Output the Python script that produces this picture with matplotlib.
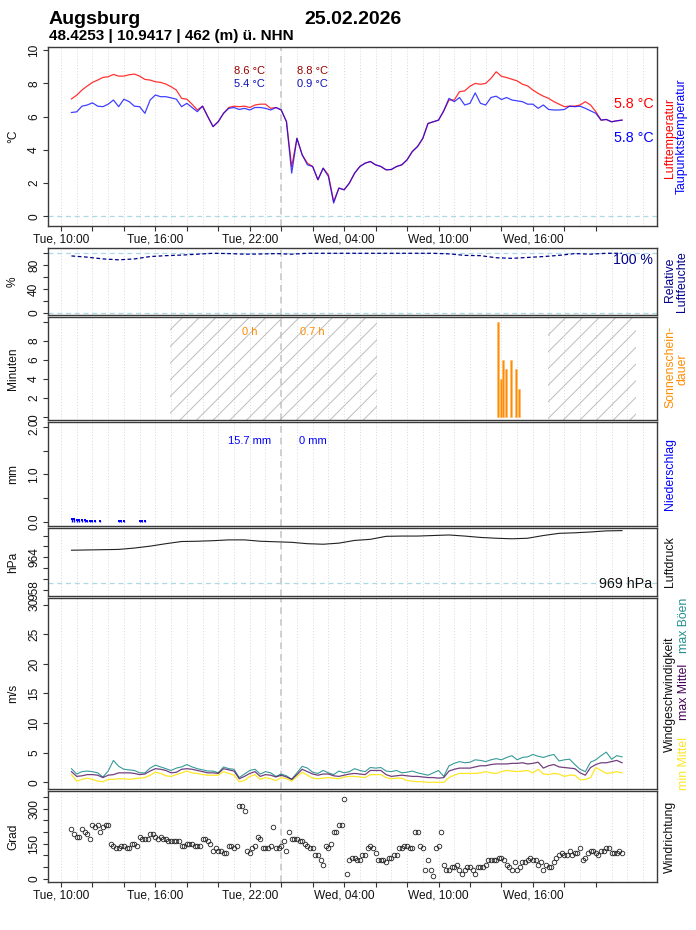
import numpy as np
import matplotlib
matplotlib.use('Agg')
import matplotlib.pyplot as plt
from matplotlib.transforms import blended_transform_factory

plt.rcParams['font.family'] = ['Liberation Sans', 'DejaVu Sans']

# ---------------- data ----------------
station = "Augsburg"
date_label = "25.02.2026"
subtitle = "48.4253 | 10.9417 | 462 (m) ü. NHN"

start_h = 10 + 40 / 60  # first sample: Tue 10:40 (hours since Tue 00:00)

# 20-minute samples
temp_air = [7.07, 7.29, 7.6, 7.84, 8.06, 8.2, 8.36, 8.4, 8.54, 8.44,
            8.44, 8.52, 8.56, 8.44, 8.24, 8.2, 8.1, 8.06, 7.96, 7.8,
            7.6, 7.1, 7.05, 6.75, 6.4, 6.63, 6.0, 5.4, 5.7, 6.2,
            6.55, 6.63, 6.6, 6.63, 6.55, 6.7, 6.75, 6.75, 6.5, 6.55,
            6.4, 5.7, 3.0, 4.7, 3.7, 3.2, 3.0, 2.2, 2.9, 2.5,
            0.9, 1.7, 1.6, 2.0, 2.6, 3.0, 3.2, 3.3, 3.1, 3.0,
            2.8, 2.82, 3.0, 3.1, 3.4, 3.9, 4.2, 4.69, 5.59, 5.69,
            5.79, 6.35, 7.0, 7.0, 7.5, 7.55, 7.83, 8.0, 7.95, 8.0,
            8.3, 8.7, 8.43, 8.35, 8.25, 8.15, 7.95, 7.85, 7.6, 7.4,
            7.23, 7.1, 6.9, 6.75, 6.6, 6.63, 6.63, 6.7, 6.9, 6.7,
            6.3, 5.79, 5.83, 5.69, 5.75, 5.79]
temp_dew = [6.25, 6.29, 6.63, 6.7, 6.83, 6.63, 6.6, 6.75, 7.0, 6.6,
            7.05, 6.9, 6.63, 6.6, 6.2, 7.0, 7.3, 7.2, 7.2, 7.13,
            7.05, 6.6, 6.8, 6.55, 6.3, 6.63, 6.0, 5.4, 5.7, 6.2,
            6.5, 6.55, 6.43, 6.5, 6.4, 6.55, 6.55, 6.5, 6.4, 6.55,
            6.4, 5.7, 2.6, 4.7, 3.7, 3.1, 3.0, 2.2, 2.9, 2.4,
            0.8, 1.7, 1.6, 2.0, 2.6, 3.0, 3.2, 3.3, 3.1, 3.0,
            2.8, 2.82, 3.0, 3.1, 3.4, 3.9, 4.2, 4.69, 5.59, 5.69,
            5.79, 6.35, 7.1, 6.9, 7.15, 6.7, 6.8, 7.43, 6.8, 6.7,
            7.15, 7.23, 7.03, 7.15, 7.0, 6.95, 6.9, 6.75, 6.75, 6.5,
            6.7, 6.43, 6.4, 6.4, 6.43, 6.63, 6.6, 6.63, 6.5, 6.35,
            6.2, 5.79, 5.83, 5.69, 5.75, 5.79]

wind_gust = [2.3, 1.4, 1.8, 1.9, 1.8, 1.6, 0.9, 1.9, 3.7, 2.7,
             2.2, 2.1, 2.0, 1.6, 1.6, 2.4, 2.9, 2.6, 2.3, 2.0,
             2.4, 2.6, 3.0, 2.6, 2.3, 2.1, 1.9, 1.9, 1.6, 2.6,
             2.3, 2.2, 0.8, 1.4, 2.0, 2.2, 1.4, 1.8, 1.6, 1.0,
             1.4, 1.1, 0.5, 1.6, 2.7, 2.4, 1.7, 1.5, 2.0, 1.6,
             1.3, 1.9, 1.6, 1.8, 2.3, 2.0, 1.8, 2.5, 2.4, 2.5,
             1.9, 1.8, 2.0, 1.6, 1.7, 1.9, 1.6, 1.4, 1.2, 1.6,
             2.0, 1.0, 2.8, 3.2, 3.5, 3.3, 3.4, 3.8, 3.7, 3.5,
             3.8, 4.0, 3.8, 4.2, 4.5, 3.8, 4.2, 4.3, 4.7, 4.4,
             4.2, 4.5, 4.7, 3.6, 3.8, 3.9, 3.0, 2.2, 1.8, 3.4,
             3.8, 4.5, 5.1, 3.9, 4.5, 4.3]
wind_mean_max = [1.8, 1.0, 1.1, 1.3, 1.3, 1.2, 0.8, 1.2, 1.3, 1.6,
                 1.6, 1.6, 1.5, 1.3, 1.4, 1.9, 2.3, 2.2, 2.0, 1.6,
                 1.7, 2.2, 2.3, 2.2, 2.0, 1.8, 1.6, 1.6, 1.5, 2.3,
                 2.1, 1.9, 0.6, 1.0, 1.5, 1.8, 1.0, 1.3, 1.2, 0.9,
                 1.2, 0.9, 0.5, 1.3, 2.2, 1.8, 1.4, 1.2, 1.4, 1.4,
                 1.1, 1.0, 1.2, 1.4, 1.5, 1.4, 1.3, 2.0, 2.0, 2.0,
                 1.3, 1.0, 1.1, 1.2, 1.1, 1.0, 1.0, 0.9, 0.8, 0.8,
                 0.7, 0.8, 1.9, 2.2, 2.4, 2.4, 2.4, 2.6, 2.8, 2.8,
                 3.0, 3.1, 3.1, 3.1, 3.2, 3.2, 3.3, 3.1, 3.2, 3.4,
                 2.4, 2.8, 3.0, 2.6, 2.5, 2.4, 2.3, 1.6, 1.2, 2.5,
                 3.0, 3.3, 3.3, 3.5, 3.7, 3.3]
wind_mean_min = [1.3, 0.2, 0.5, 0.7, 0.5, 0.2, 0.1, 0.5, 0.5, 0.6,
                 0.6, 0.5, 0.6, 0.7, 0.8, 1.2, 1.7, 1.5, 1.1, 1.0,
                 1.3, 1.6, 1.9, 1.6, 1.5, 1.3, 1.2, 1.2, 1.2, 1.8,
                 1.5, 1.2, 0.1, 0.3, 1.0, 1.3, 0.5, 0.8, 0.6, 0.3,
                 0.8, 0.6, 0.2, 1.0, 1.7, 1.2, 0.7, 0.6, 0.7, 0.8,
                 0.7, 0.6, 0.9, 1.0, 1.0, 0.9, 0.8, 1.3, 1.3, 1.3,
                 0.8, 0.6, 0.7, 0.7, 0.3, 0.2, 0.1, 0.1, 0.0, 0.0,
                 0.0, 0.0, 0.8, 1.2, 1.5, 1.5, 1.5, 1.5, 1.6, 1.8,
                 1.6, 1.5, 1.8, 2.0, 1.9, 1.8, 1.9, 2.0, 1.6, 2.2,
                 1.4, 1.3, 1.5, 1.4, 1.0, 1.2, 1.2, 0.4, 0.5, 0.8,
                 2.5, 2.0, 1.5, 1.6, 1.8, 1.6]

# hourly samples
humidity = [95.5, 93.5, 90.5, 89, 90.5, 94.5, 96, 97, 98.5, 100,
            99.5, 98.5, 98.8, 99.5, 98.5, 100, 100, 100, 100, 100,
            100, 100, 100, 100, 99, 96.5, 96, 92.5, 91.5, 93,
            94.5, 96.5, 99.5, 98.5, 100, 100]
pressure = [965.3, 965.35, 965.4, 965.45, 965.7, 966.05, 966.5, 966.9, 966.95, 967.05,
            967.2, 967.2, 966.95, 966.85, 966.75, 966.5, 966.4, 966.6, 967.1, 967.3,
            967.85, 967.9, 967.9, 968.0, 968.1, 967.9, 967.65, 967.5, 967.4, 967.5,
            968.0, 968.4, 968.5, 968.65, 968.85, 968.9]

# 10-minute samples
wind_dir = [211, 190, 180, 180, 211, 201, 190, 170, 231, 220,
            231, 200, 220, 231, 231, 150, 139, 130, 130, 140,
            140, 130, 130, 150, 150, 140, 180, 170, 170, 170,
            190, 190, 180, 170, 180, 170, 170, 160, 160, 160,
            160, 160, 140, 140, 150, 150, 150, 140, 140, 140,
            170, 170, 160, 150, 120, 130, 120, 120, 110, 110,
            140, 140, 130, 140, 313, 313, 291, 120, 110, 130,
            140, 180, 170, 130, 130, 130, 140, 220, 130, 130,
            140, 160, 120, 200, 170, 170, 170, 160, 160, 150,
            140, 130, 130, 100, 100, 80, 59, 140, 130, 150,
            200, 200, 231, 231, 340,
            19, 80, 90, 90, 80, 80, 100, 100, 130, 140,
            130, 110, 80, 80, 80, 70, 90, 90, 100, 100,
            130, 130, 140, 140, 130, 130, 200, 200, 140, 130,
            39, 80, 39, 10, 130, 140, 200, 59, 39, 39,
            50, 50, 59, 39, 19, 39, 50, 50, 39, 19,
            50, 50, 50, 59, 80, 80, 80, 80, 90, 90,
            80, 59, 50, 39, 70, 39, 50, 70, 70, 80,
            90, 80, 80, 59, 70, 39, 59, 50, 50, 70,
            90, 100, 110, 100, 100, 120, 100, 110, 110, 130,
            80, 90, 110, 120, 120, 110, 100, 120, 120, 130,
            130, 110, 110, 110, 120, 110]

sun_hours = [37.78, 37.95, 38.11, 38.28, 38.61, 38.95, 39.11]
sun_minutes = [10, 4, 6, 5, 6, 5, 3]

precip_hours = [10.67, 10.83, 11.0, 11.17, 11.33, 11.5, 11.67, 11.83, 12.0, 12.17,
                12.5, 13.67, 13.83, 14.0, 15.0, 15.17, 15.33]
precip_mm = [0.06, 0.06, 0.05, 0.05, 0.04, 0.04, 0.03, 0.02, 0.02, 0.02,
             0.02, 0.02, 0.02, 0.02, 0.02, 0.02, 0.02]

night_spans = [(16.95, 30.08), (40.93, 46.53)]
tick_label_map = {10: "Tue, 10:00", 16: "Tue, 16:00", 22: "Tue, 22:00",
                  28: "Wed, 04:00", 34: "Wed, 10:00", 40: "Wed, 16:00"}
day_centers = [22, 26]
day_tmax = ["8.6 °C", "8.8 °C"]
day_tmin = ["5.4 °C", "0.9 °C"]
day_sun = ["0 h", "0.7 h"]
day_precip = ["15.7 mm", "0 mm"]

# ---------------- times ----------------
t20 = start_h + np.arange(len(temp_air)) / 3.0
t60 = start_h + np.arange(len(humidity))
t10 = start_h + np.arange(len(wind_dir)) / 6.0

# ---------------- figure ----------------
WPX, HPX = 696, 930
fig = plt.figure(figsize=(WPX / 100, HPX / 100), dpi=100)
L, R = 48, 657
XLIM = (9.174, 47.89)
FS = 8.6


def add_ax(top, bot):
    return fig.add_axes([L / WPX, 1 - bot / HPX, (R - L) / WPX, (bot - top) / HPX])


def fx(x):
    return x / WPX


def fy(y):
    return 1 - y / HPX


def style(ax, ylim, yticks, ylabels, xlabels=False):
    ax.set_xlim(XLIM)
    ax.set_ylim(ylim)
    for h in range(10, 48):
        ax.axvline(h, color='#D8D8D8', lw=0.7, ls=(0, (1, 2)), zorder=0)
    ax.axvline(24, color='#C8C8C8', lw=1.2, ls=(0, (4, 3)), zorder=0.5)
    ax.set_yticks(yticks)
    ax.set_yticklabels(ylabels, rotation=90, va='center')
    ax.tick_params(axis='y', length=3.6, width=0.8, pad=2.0, labelsize=FS,
                   color='#333333', labelcolor='#111111')
    if xlabels:
        ticks = list(range(10, 45, 2))
        ax.set_xticks(ticks)
        ax.set_xticklabels([tick_label_map.get(h, '') for h in ticks])
        ax.tick_params(axis='x', length=3.6, width=0.8, pad=2.0, labelsize=FS,
                       color='#333333', labelcolor='#111111')
    else:
        ax.set_xticks([])
    for s in ax.spines.values():
        s.set_color('#3A3A3A')
        s.set_linewidth(1.0)


def ylab(text, top, bot):
    fig.text(fx(13), fy((top + bot) / 2), text, rotation=90, ha='center', va='center',
             fontsize=FS, color='#111111')


def rlab(text, x, y, color):
    fig.text(fx(x), fy(y), text, rotation=90, ha='center', va='center',
             fontsize=8.8, color=color)


panels = [(47, 226), (248, 315), (317, 420), (422, 526), (528, 596), (598, 789), (791, 882)]

# --- titles ---
fig.text(fx(49), fy(24), station, fontsize=14, fontweight='bold', ha='left', va='baseline')
fig.text(fx(304), fy(24), date_label, fontsize=14, fontweight='bold', ha='left', va='baseline')
fig.text(fx(49), fy(40), subtitle, fontsize=11, fontweight='bold', ha='left', va='baseline')

# --- 1 temperature ---
top, bot = panels[0]
ax1 = add_ax(top, bot)
style(ax1, (-0.58, 10.19), [0, 2, 4, 6, 8, 10], ['0', '2', '4', '6', '8', '10'], xlabels=True)
ax1.axhline(0, color='#ADD8E6', lw=0.9, ls=(0, (4, 3)), zorder=1)
ax1.plot(t20, temp_air, color='#FF0000', lw=0.9, alpha=0.8, zorder=3)
ax1.plot(t20, temp_dew, color='#0000FF', lw=0.9, alpha=0.75, zorder=4)
tr1 = blended_transform_factory(ax1.transData, ax1.transAxes)
for xc, tmax, tmin in zip(day_centers, day_tmax, day_tmin):
    ax1.text(xc, 0.866, tmax, transform=tr1, ha='center', va='center', fontsize=8, color='#9A0000')
    ax1.text(xc, 0.793, tmin, transform=tr1, ha='center', va='center', fontsize=8, color='#1010B8')
fig.text(fx(654), fy(103.5), f"{temp_air[-1]:.1f} °C", ha='right', va='center', fontsize=10.3, color='#FF0000')
fig.text(fx(654), fy(138.5), f"{temp_dew[-1]:.1f} °C", ha='right', va='center', fontsize=10.3, color='#0000FF')
ylab('°C', top, bot)
rlab('Lufttemperatur', 670, 138, '#FF0000')
rlab('Taupunktstemperatur', 682, 136.5, '#0000FF')

# --- 2 humidity ---
top, bot = panels[1]
ax2 = add_ax(top, bot)
style(ax2, (-3.9, 108.9), [0, 20, 40, 60, 80, 100], ['0', '', '40', '', '80', ''])
ax2.axhline(0, color='#ADD8E6', lw=0.9, ls=(0, (4, 3)), zorder=1)
ax2.axhline(100, color='#ADD8E6', lw=0.9, ls=(0, (4, 3)), zorder=1)
ax2.plot(t60, humidity, color='#00008B', lw=0.9, ls=(0, (3, 2)), zorder=3)
fig.text(fx(653), fy(260), f"{humidity[-1]:.0f} %", ha='right', va='center', fontsize=10.2, color='#00008B')
ylab('%', top, bot)
rlab('Relative', 670, 280, '#00008B')
rlab('Luftfeuchte', 682, 281.5, '#00008B')

# --- 3 sunshine ---
top, bot = panels[2]
ax3 = add_ax(top, bot)
style(ax3, (-0.28, 10.48), [0, 2, 4, 6, 8, 10], ['0', '2', '4', '6', '8', ''])
plt.rcParams['hatch.linewidth'] = 0.7
for a, b in night_spans:
    ax3.axvspan(a, b, facecolor='none', edgecolor='#BDBDBD', hatch='//', lw=0, zorder=1)
ax3.bar(sun_hours, sun_minutes, width=0.13, color='#FF8C00', edgecolor='#FFB866',
        lw=0.4, zorder=3)
tr3 = blended_transform_factory(ax3.transData, ax3.transAxes)
for xc, s in zip(day_centers, day_sun):
    ax3.text(xc, 0.857, s, transform=tr3, ha='center', va='center', fontsize=8, color='#FF8C00')
ylab('Minuten', top, bot)
rlab('Sonnenschein-', 670, 367, '#FF8C00')
rlab('dauer', 682, 369, '#FF8C00')

# --- 4 precipitation ---
top, bot = panels[3]
ax4 = add_ax(top, bot)
style(ax4, (-0.084, 2.1), [0, 0.5, 1.0, 1.5, 2.0], ['0.0', '', '1.0', '', '2.0'])
ax4.vlines(precip_hours, 0, precip_mm, color='#0000FF', lw=1.0, zorder=3)
ax4.plot(precip_hours, precip_mm, 's', color='#0000FF', ms=1.8, mew=0, zorder=4)
tr4 = blended_transform_factory(ax4.transData, ax4.transAxes)
for xc, s in zip(day_centers, day_precip):
    ax4.text(xc, 0.817, s, transform=tr4, ha='center', va='center', fontsize=8, color='#0000FF')
ylab('mm', top, bot)
rlab('Niederschlag', 670, 474, '#0000FF')

# --- 5 pressure ---
top, bot = panels[4]
ax5 = add_ax(top, bot)
style(ax5, (956.9, 969.38), [958, 960, 962, 964, 966, 968], ['958', '', '', '964', '', ''])
ax5.axhline(959.3, color='#ADD8E6', lw=0.9, ls=(0, (4, 3)), zorder=1)
ax5.plot(t60, pressure, color='#222222', lw=0.8, zorder=3)
fig.text(fx(652), fy(584), f"{pressure[-1]:.0f} hPa", ha='right', va='center', fontsize=10.3, color='#111111')
ylab('hPa', top, bot)
rlab('Luftdruck', 670, 562, '#111111')

# --- 6 wind speed ---
top, bot = panels[5]
ax6 = add_ax(top, bot)
style(ax6, (-1.13, 31.13), [0, 5, 10, 15, 20, 25, 30], ['0', '5', '10', '15', '20', '25', '30'])
ax6.plot(t20, wind_gust, color='#21908C', lw=0.8, alpha=0.9, zorder=3)
ax6.plot(t20, wind_mean_max, color='#440154', lw=0.9, alpha=0.75, zorder=4)
ax6.plot(t20, wind_mean_min, color='#FDE725', lw=0.9, zorder=2)
ylab('m/s', top, bot)
rlab('Windgeschwindigkeit', 670, 694, '#111111')
rlab('min Mittel', 684, 763, '#FDE725')
rlab('max Mittel', 684, 692, '#440154')
rlab('max Böen', 684, 625.5, '#21908C')

# --- 7 wind direction ---
top, bot = panels[6]
ax7 = add_ax(top, bot)
style(ax7, (-14.1, 375.7), list(range(0, 351, 50)),
      ['0', '', '', '150', '', '', '300', ''], xlabels=True)
ax7.plot(t10, wind_dir, 'o', mfc='none', mec='#222222', ms=3.3, mew=0.6, zorder=3)
ylab('Grad', top, bot)
rlab('Windrichtung', 670, 836.5, '#111111')

fig.savefig('out.png', dpi=100)
